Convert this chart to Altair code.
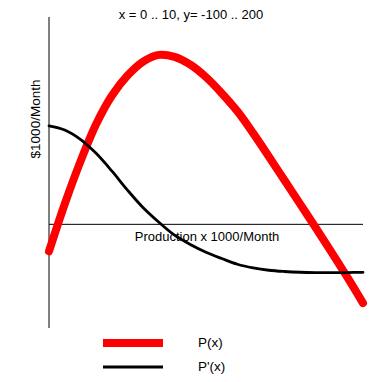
import altair as alt
import pandas as pd

# ---- data ----
x_vals = [0, 0.5, 1, 1.5, 2, 2.5, 3, 3.5, 4, 4.5, 5, 5.5, 6, 6.5, 7, 7.5, 8, 8.5, 9, 9.5, 10]
p_vals = [-26, 19.5, 60.5, 96.5, 124, 143.5, 157, 163.5, 161.5, 154, 142, 126.5, 109, 88, 65.5, 42.5, 19.5, -3.5, -27, -51, -76]
dp_vals = [95, 91, 82, 68.5, 51.5, 33, 16, 2, -10.5, -19.5, -27, -33, -38.5, -42, -44.3, -45.5, -46.2, -46.5, -46.6, -46.5, -46.3]
series_names = ["P(x)", "P'(x)"]
series_colors = ["#ff0000", "#000000"]
series_widths = [8, 2.8]

title_text = "x = 0 .. 10, y= -100 .. 200"
x_title = "Production x 1000/Month"
y_title = "$1000/Month"

x_domain = [0, 10]
y_domain = [-100, 200]

df = pd.DataFrame({
    "x": x_vals * 2,
    "value": p_vals + dp_vals,
    "series": [series_names[0]] * len(x_vals) + [series_names[1]] * len(x_vals),
})

FONT = "Liberation Sans"
W, H = 314, 311

xs = alt.Scale(domain=x_domain, nice=False, zero=False)
ys = alt.Scale(domain=y_domain, nice=False, zero=False)

color_enc = alt.Color(
    "series:N",
    scale=alt.Scale(domain=series_names, range=series_colors),
    legend=alt.Legend(title=None),
)
width_enc = alt.StrokeWidth(
    "series:N",
    scale=alt.Scale(domain=series_names, range=series_widths),
    legend=alt.Legend(title=None),
)

# axes lines through origin
vaxis = alt.Chart(pd.DataFrame({"x": [x_domain[0]], "y": [y_domain[0]], "y2": [y_domain[1]]})).mark_rule(
    color="black", strokeWidth=1
).encode(
    x=alt.X("x:Q", scale=xs, axis=None),
    y=alt.Y("y:Q", scale=ys, axis=None),
    y2="y2:Q",
)
haxis = alt.Chart(pd.DataFrame({"x": [x_domain[0]], "x2": [x_domain[1]], "y": [0]})).mark_rule(
    color="black", strokeWidth=1
).encode(
    x=alt.X("x:Q", scale=xs, axis=None),
    x2="x2:Q",
    y=alt.Y("y:Q", scale=ys, axis=None),
)

def curve(name):
    return alt.Chart(df).transform_filter(
        alt.datum.series == name
    ).mark_line(interpolate="catmull-rom", strokeCap="round", strokeJoin="round").encode(
        x=alt.X("x:Q", scale=xs, axis=None),
        y=alt.Y("value:Q", scale=ys, axis=None),
        color=color_enc,
        strokeWidth=width_enc,
    )

def label(text, x, y, size, angle=0, baseline="middle"):
    return alt.Chart(pd.DataFrame({"t": [text]})).mark_text(
        font=FONT, fontSize=size, color="black", angle=angle, align="center", baseline=baseline
    ).encode(text="t:N", x=alt.value(x), y=alt.value(y))

chart = alt.layer(
    vaxis,
    haxis,
    curve(series_names[0]),
    curve(series_names[1]),
    label(title_text, 142, -8, 13, baseline="top"),
    label(x_title, 158, 220, 13),
    label(y_title, -13, 102, 13.5, angle=270),
).properties(
    width=W,
    height=H,
    autosize=alt.AutoSizeParams(type="none"),
    padding={"left": 41, "top": 9, "right": 10, "bottom": 46},
).configure_view(
    stroke=None
).configure_legend(
    orient="none",
    legendX=50,
    legendY=316,
    symbolType="stroke",
    symbolSize=3600,
    clipHeight=20,
    rowPadding=4,
    labelOffset=31,
    labelFont=FONT,
    labelFontSize=13.5,
    labelColor="black",
)

chart.save("out.html", embed_options={"renderer": "svg", "actions": False})
